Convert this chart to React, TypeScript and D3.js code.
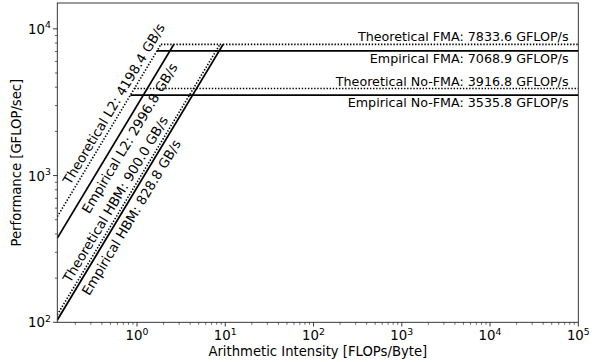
import React from "react";
import * as d3 from "d3";

const W = 600;
const H = 362;

const ceilingNames = ["Theoretical FMA", "Empirical FMA", "Theoretical No-FMA", "Empirical No-FMA"];
const ceilingValues = [7833.6, 7068.9, 3916.8, 3535.8];
const ceilingTheoretical = [true, false, true, false];

const bandwidthNames = ["Theoretical L2", "Empirical L2", "Theoretical HBM", "Empirical HBM"];
const bandwidthValues = [4198.4, 2996.8, 900.0, 828.8];
const bandwidthTheoretical = [true, false, true, false];
const bandwidthLabelX = [0.196, 0.205, 0.196, 0.205];

const xDomain = [0.125, 1e5];
const yDomain = [100, 15000];
const xMajorExps = [0, 1, 2, 3, 4, 5];
const yMajorExps = [2, 3, 4];

const FONT = "DejaVu Sans";

export default function App() {
  const left = 57.3, right = 578.3, top = 3, bottom = 322.3;
  const x = d3.scaleLog().domain(xDomain).range([left, right]);
  const y = d3.scaleLog().domain(yDomain).range([bottom, top]);

  const maxPeak = d3.max(ceilingValues) as number;
  const maxBW = d3.max(bandwidthValues) as number;

  const line = d3.line<[number, number]>().x((d) => x(d[0])).y((d) => y(d[1]));

  const dxp = x(10) - x(1);
  const dyp = y(1000) - y(100);
  const angle = (Math.atan2(-dyp, dxp) * 180) / Math.PI;

  const xMinor: number[] = [];
  for (let e = -1; e <= 4; e++) for (let k = 2; k <= 9; k++) {
    const v = k * Math.pow(10, e);
    if (v >= xDomain[0] && v <= xDomain[1]) xMinor.push(v);
  }
  const yMinor: number[] = [];
  for (let e = 2; e <= 4; e++) for (let k = 2; k <= 9; k++) {
    const v = k * Math.pow(10, e);
    if (v >= yDomain[0] && v <= yDomain[1]) yMinor.push(v);
  }

  const ceilSize = 12.7;
  const diagSize = 13.3;
  const tickSize = 13.3;
  const axisLabelSize = 13.2;

  return (
    <svg width={W} height={H} style={{ display: "block", position: "absolute", left: 0, top: 0 }} fontFamily={FONT}>
      <rect x={0} y={0} width={W} height={H} fill="#fff" />
      <defs>
        <clipPath id="plot">
          <rect x={left} y={top} width={right - left} height={bottom - top} />
        </clipPath>
      </defs>
      <g clipPath="url(#plot)">
        {bandwidthValues.map((bw, i) => (
          <path
            key={"bw" + i}
            d={line([[xDomain[0], bw * xDomain[0]], [maxPeak / bw, maxPeak]]) as string}
            fill="none"
            stroke="#000"
            strokeWidth={bandwidthTheoretical[i] ? 1.6 : 1.8}
            strokeDasharray={bandwidthTheoretical[i] ? "1.4,1.7" : undefined}
          />
        ))}
        {ceilingValues.map((p, i) => (
          <path
            key={"c" + i}
            d={line([[p / maxBW, p], [xDomain[1], p]]) as string}
            fill="none"
            stroke="#000"
            strokeWidth={ceilingTheoretical[i] ? 1.6 : 1.8}
            strokeDasharray={ceilingTheoretical[i] ? "1.4,1.7" : undefined}
          />
        ))}
      </g>
      {ceilingValues.map((p, i) => (
        <text
          key={"cl" + i}
          x={x(xDomain[1]) - 9.8}
          y={ceilingTheoretical[i] ? y(p) - 3 : y(p) + 3 + ceilSize * 0.73}
          textAnchor="end"
          fontSize={ceilSize}
          fill="#000"
        >
          {`${ceilingNames[i]}: ${p.toFixed(1)} GFLOP/s`}
        </text>
      ))}
      {bandwidthValues.map((bw, i) => {
        const lx = bandwidthLabelX[i];
        const px = x(lx);
        const py = y(bw * lx);
        return (
          <text
            key={"bl" + i}
            transform={`translate(${px},${py}) rotate(${-angle})`}
            x={0}
            y={bandwidthTheoretical[i] ? -5 : 5.5 + diagSize * 0.73}
            fontSize={diagSize}
            fill="#000"
          >
            {`${bandwidthNames[i]}: ${bw.toFixed(1)} GB/s`}
          </text>
        );
      })}
      <rect x={left} y={top} width={right - left} height={bottom - top} fill="none" stroke="#222" strokeWidth={0.9} />
      {xMinor.map((v, i) => (
        <line key={"xm" + i} x1={x(v)} x2={x(v)} y1={bottom} y2={bottom + 2.4} stroke="#222" strokeWidth={0.7} />
      ))}
      {xMajorExps.map((e) => (
        <g key={"xM" + e}>
          <line x1={x(Math.pow(10, e))} x2={x(Math.pow(10, e))} y1={bottom} y2={bottom + 4.2} stroke="#222" strokeWidth={0.9} />
          <text x={x(Math.pow(10, e))} y={bottom + 18} textAnchor="middle" fontSize={tickSize} fill="#000">
            10<tspan fontSize={tickSize * 0.7} dy={-5.5}>{e}</tspan>
          </text>
        </g>
      ))}
      {yMinor.map((v, i) => (
        <line key={"ym" + i} x1={left - 2.4} x2={left} y1={y(v)} y2={y(v)} stroke="#222" strokeWidth={0.7} />
      ))}
      {yMajorExps.map((e) => (
        <g key={"yM" + e}>
          <line x1={left - 4.2} x2={left} y1={y(Math.pow(10, e))} y2={y(Math.pow(10, e))} stroke="#222" strokeWidth={0.9} />
          <text x={left - 6.5} y={y(Math.pow(10, e)) + 5} textAnchor="end" fontSize={tickSize} fill="#000">
            10<tspan fontSize={tickSize * 0.7} dy={-5.5}>{e}</tspan>
          </text>
        </g>
      ))}
      <text x={(left + right) / 2} y={356} textAnchor="middle" fontSize={axisLabelSize} fill="#000">
        Arithmetic Intensity [FLOPs/Byte]
      </text>
      <text
        transform={`translate(21,${(top + bottom) / 2}) rotate(-90)`}
        textAnchor="middle"
        fontSize={axisLabelSize}
        fill="#000"
      >
        Performance [GFLOP/sec]
      </text>
    </svg>
  );
}
